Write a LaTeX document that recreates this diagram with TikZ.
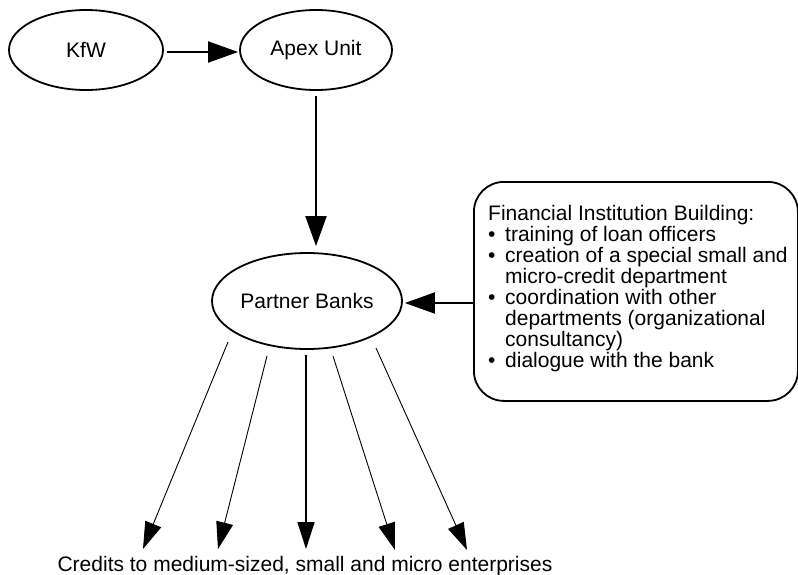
\documentclass[tikz,border=0pt]{standalone}
\usepackage{fontspec}
\setmainfont{Liberation Sans}
\usetikzlibrary{arrows.meta,shapes.geometric,calc}
\newcommand{\bitem}{\makebox[17pt][l]{\textbullet}}
\newcommand{\bskip}{\hspace*{17pt}}
\begin{document}
\begin{tikzpicture}[x=1pt,y=-1pt,
  oval/.style={draw,line width=1.8pt,ellipse,inner sep=0pt,font=\fontsize{21}{21}\selectfont},
  bigarrow/.style={-{Triangle[length=30pt,width=21pt]},line width=2pt},
  fanarrow/.style={-{Triangle[length=27pt,width=17pt]},line width=0.9pt},
  txt/.style={font=\fontsize{21}{21}\selectfont}]
\useasboundingbox (0,0) rectangle (798,574);
\node[oval,minimum width=154pt,minimum height=80pt] (kfw) at (86,50) {KfW};
\node[oval,minimum width=152pt,minimum height=80pt] (apex) at (316,50) {Apex Unit};
\node[oval,minimum width=190pt,minimum height=96pt] (pb) at (307,301) {Partner Banks};
\node[draw,line width=1.8pt,rounded corners=30pt,minimum width=324pt,minimum height=219pt,anchor=north west] (fib) at (473,181) {};
\node[txt,anchor=north west,align=left,inner sep=0pt] (fibtxt) at (488,205) {Financial Institution Building:\\
\bitem training of loan officers\\
\bitem creation of a special small and\\
\bskip micro-credit department\\
\bitem coordination with other\\
\bskip departments (organizational\\
\bskip consultancy)\\
\bitem dialogue with the bank};
\node[txt,inner sep=0pt,anchor=base] (cap) at (305,571) {Credits to medium-sized, small and micro enterprises};
\coordinate (s1) at (228,342); \coordinate (e1) at (143,549);
\coordinate (s2) at (267,356); \coordinate (e2) at (218,549);
\coordinate (s3) at (306,355); \coordinate (e3) at (306,549);
\coordinate (s4) at (333,356); \coordinate (e4) at (395,550);
\coordinate (s5) at (376,348); \coordinate (e5) at (467,550);
\draw[bigarrow] ($(kfw.east)+(3,2)$) -- ($(apex.west)+(-1,2)$);
\draw[bigarrow] ($(apex.south)+(0,5)$) -- ($(apex.south |- pb.north)+(0,-6)$);
\draw[bigarrow] ($(fib.west |- pb.east)+(0,2)$) -- ($(pb.east)+(2,2)$);
\draw[fanarrow] (s1) -- (e1);
\draw[fanarrow] (s2) -- (e2);
\draw[fanarrow,line width=1.7pt] (s3) -- (e3);
\draw[fanarrow] (s4) -- (e4);
\draw[fanarrow] (s5) -- (e5);
\end{tikzpicture}
\end{document}
